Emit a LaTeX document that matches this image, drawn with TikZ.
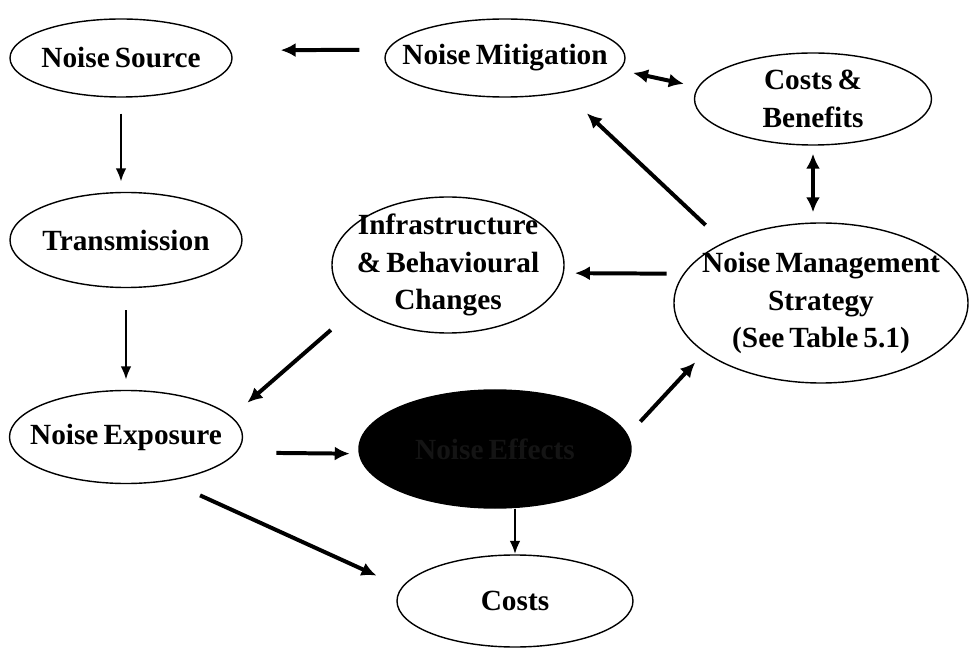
\documentclass[tikz,border=0pt]{standalone}
\usepackage{fontspec}
\setmainfont[WordSpace=0.7]{Liberation Serif}
\usetikzlibrary{shapes.geometric,arrows.meta}

\begin{document}
\begin{tikzpicture}[x=0.03cm,y=-0.03cm]
  \useasboundingbox (0,0) rectangle (971,651);
  \begin{scope}[
    every node/.style={
      ellipse,
      draw,
      line width=1.2pt,
      align=center,
      inner sep=-1.2cm,
      font=\fontsize{25}{32}\selectfont\bfseries,
    },
    ]
    \node[minimum width=6.66cm,minimum height=2.34cm] (source)   at (121,58)  {Noise Source};
    \node[minimum width=7.2cm,minimum height=2.34cm]  (mitig)    at (505,58)  {Noise Mitigation};
    \node[minimum width=7.11cm,minimum height=2.76cm] (costben)  at (813,99)  {Costs \&\\Benefits};
    \node[minimum width=6.96cm,minimum height=2.85cm] (transm)   at (126,240) {Transmission};
    \node[minimum width=6.96cm,minimum height=4.08cm] (infra)    at (448,265) {Infrastructure\\\& Behavioural\\Changes};
    \node[minimum width=8.82cm,minimum height=4.8cm]  (strategy) at (821,303) {Noise Management\\Strategy\\(See Table 5.1)};
    \node[minimum width=6.99cm,minimum height=2.79cm] (exposure) at (126,437) {Noise Exposure};
    \node[minimum width=8.16cm,minimum height=3.54cm,fill=black,text=black!92] (effects) at (495,449) {Noise Effects};
    \node[minimum width=7.08cm,minimum height=2.76cm] (costs)    at (515,601) {Costs};
  \end{scope}
  \begin{scope}[
    heavy/.style={line width=3.4pt,>={Latex[length=.45cm,width=.42cm]}},
    light/.style={line width=2.2pt,>={Latex[length=.4cm,width=.32cm]}},
    ]
    \path[->]
    (mitig.176) edge[heavy,shorten <=.83cm,shorten >=1.5cm] (source.4)
    (source.south) edge[light,shorten <=.48cm,shorten >=.3cm] (source.south |- transm.north)
    (transm.south) edge[light,shorten <=.66cm,shorten >=.3cm] (transm.south |- exposure.north)
    (mitig.-6) edge[heavy,<->,shorten <=.4cm,shorten >=.43cm] (costben.174)
    (costben.south) edge[heavy,<->,shorten <=.24cm,shorten >=.3cm] (costben.south |- strategy.north)
    (strategy.148) edge[heavy,shorten <=.75cm,shorten >=.91cm] (mitig.-30)
    (strategy.168) edge[heavy,shorten <=.5cm,shorten >=.33cm] (infra.-4)
    (infra.205) edge[heavy,shorten <=1.02cm,shorten >=.63cm] (exposure.11)
    (exposure.-8) edge[heavy,shorten <=1.19cm,shorten >=.27cm] (effects.182)
    (effects.6) edge[heavy,shorten <=.55cm,shorten >=.4cm] (strategy.203)
    (effects.south -| costs.north) edge[light] (costs.north)
    (exposure.-46) edge[heavy,shorten <=1.04cm,shorten >=.83cm] (costs.173);
  \end{scope}
\end{tikzpicture}
\end{document}
